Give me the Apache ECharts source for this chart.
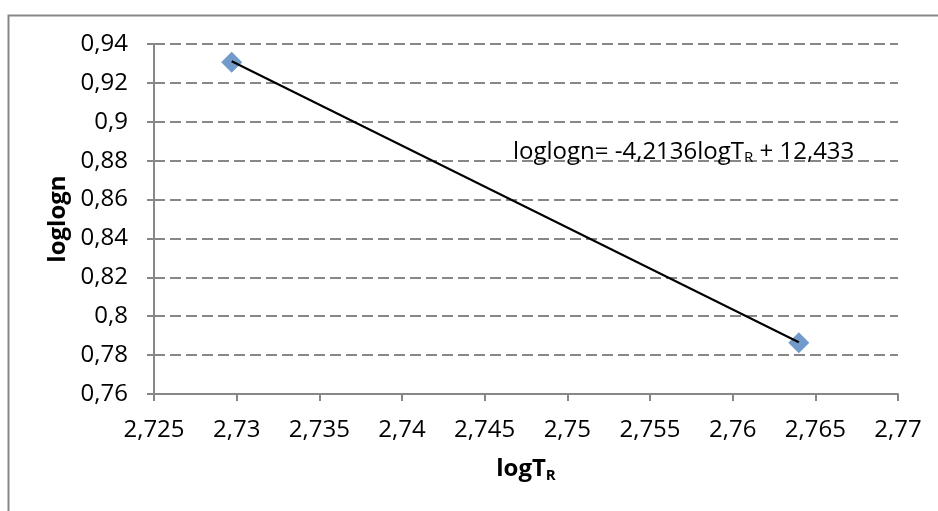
<!DOCTYPE html>
<html>
<head>
<meta charset="utf-8">
<script src="https://cdn.jsdelivr.net/npm/echarts@6/dist/echarts.min.js"></script>
<style>
html,body{margin:0;padding:0;background:#fff;}
#c{width:938px;height:511px;}
</style>
</head>
<body>
<div id="c"></div>
<script>
// Data
const logT = [2.7297, 2.7640];
const loglogn = [0.9306, 0.7864];
const trendSlope = -4.2136;
const trendIntercept = 12.433;
const xTicks = ['2,725','2,73','2,735','2,74','2,745','2,75','2,755','2,76','2,765','2,77'];
const yTicks = ['0,76','0,78','0,8','0,82','0,84','0,86','0,88','0,9','0,92','0,94'];
const xTitle = 'logT';
const xTitleSub = 'R';
const yTitle = 'loglogn';
const eqText = 'loglogn= -4,2136logT';
const eqSub = 'R';
const eqTail = ' + 12,433';

const FONT = 'Open Sans';
const FS = 24;
const fmt = v => String(+(+v).toFixed(4)).replace('.', ',');

const points = logT.map((x, i) => [x, loglogn[i]]);
const trend = logT.map(x => [x, trendSlope * x + trendIntercept]);

const chart = echarts.init(document.getElementById('c'), null, {renderer: 'canvas'});
chart.setOption({
  animation: false,
  backgroundColor: '#fff',
  textStyle: {fontFamily: FONT},
  grid: {left: 154, right: 40, top: 44, bottom: 117, containLabel: false},
  xAxis: {
    type: 'value', min: 2.725, max: 2.77, interval: 0.005,
    name: '{b|' + xTitle + '}{s|' + xTitleSub + '}',
    nameLocation: 'middle', nameGap: 62,
    nameTextStyle: {
      rich: {
        b: {fontFamily: FONT, fontWeight: 'bold', fontSize: FS, color: '#000'},
        s: {fontFamily: FONT, fontWeight: 'bold', fontSize: 15, color: '#000', padding: [12, 0, 0, 0]}
      }
    },
    axisLine: {show: true, onZero: false, lineStyle: {color: '#878787', width: 2}},
    axisTick: {show: true, inside: false, length: 7, lineStyle: {color: '#878787', width: 2}},
    axisLabel: {formatter: v => fmt(v), color: '#000', fontSize: FS, fontFamily: FONT, margin: 24},
    splitLine: {show: false}
  },
  yAxis: {
    type: 'value', min: 0.76, max: 0.94, interval: 0.02,
    name: yTitle, nameLocation: 'middle', nameGap: 76, nameRotate: 90,
    nameTextStyle: {fontFamily: FONT, fontWeight: 'bold', fontSize: FS, color: '#000'},
    axisLine: {show: true, onZero: false, lineStyle: {color: '#878787', width: 2}},
    axisTick: {show: true, inside: false, length: 7, lineStyle: {color: '#878787', width: 2}},
    axisLabel: {formatter: v => fmt(v), color: '#000', fontSize: FS, fontFamily: FONT, margin: 26},
    splitLine: {show: true, lineStyle: {color: '#878787', width: 2, type: [11, 5]}}
  },
  series: [
    {
      type: 'scatter', data: points, symbol: 'diamond', symbolSize: 21,
      itemStyle: {color: '#4F81BD'}, z: 2
    },
    {
      type: 'line', data: trend, symbol: 'none', smooth: false,
      lineStyle: {color: '#000', width: 2}, z: 3, silent: true
    }
  ],
  graphic: [
    {
      type: 'rect', shape: {x: 8.5, y: 15.5, width: 1000, height: 1000},
      style: {fill: 'none', stroke: '#878787', lineWidth: 2}, z: -1, silent: true
    },
    {
      type: 'text', left: 513, top: 140, z: 10,
      style: {
        text: '{a|' + eqText + '}{s|' + eqSub + '}{a|' + eqTail + '}',
        rich: {
          a: {fontFamily: FONT, fontSize: FS, fill: '#000', color: '#000'},
          s: {fontFamily: FONT, fontSize: 15, fill: '#000', color: '#000', padding: [12, 0, 0, 0]}
        }
      }
    }
  ]
});
</script>
</body>
</html>
